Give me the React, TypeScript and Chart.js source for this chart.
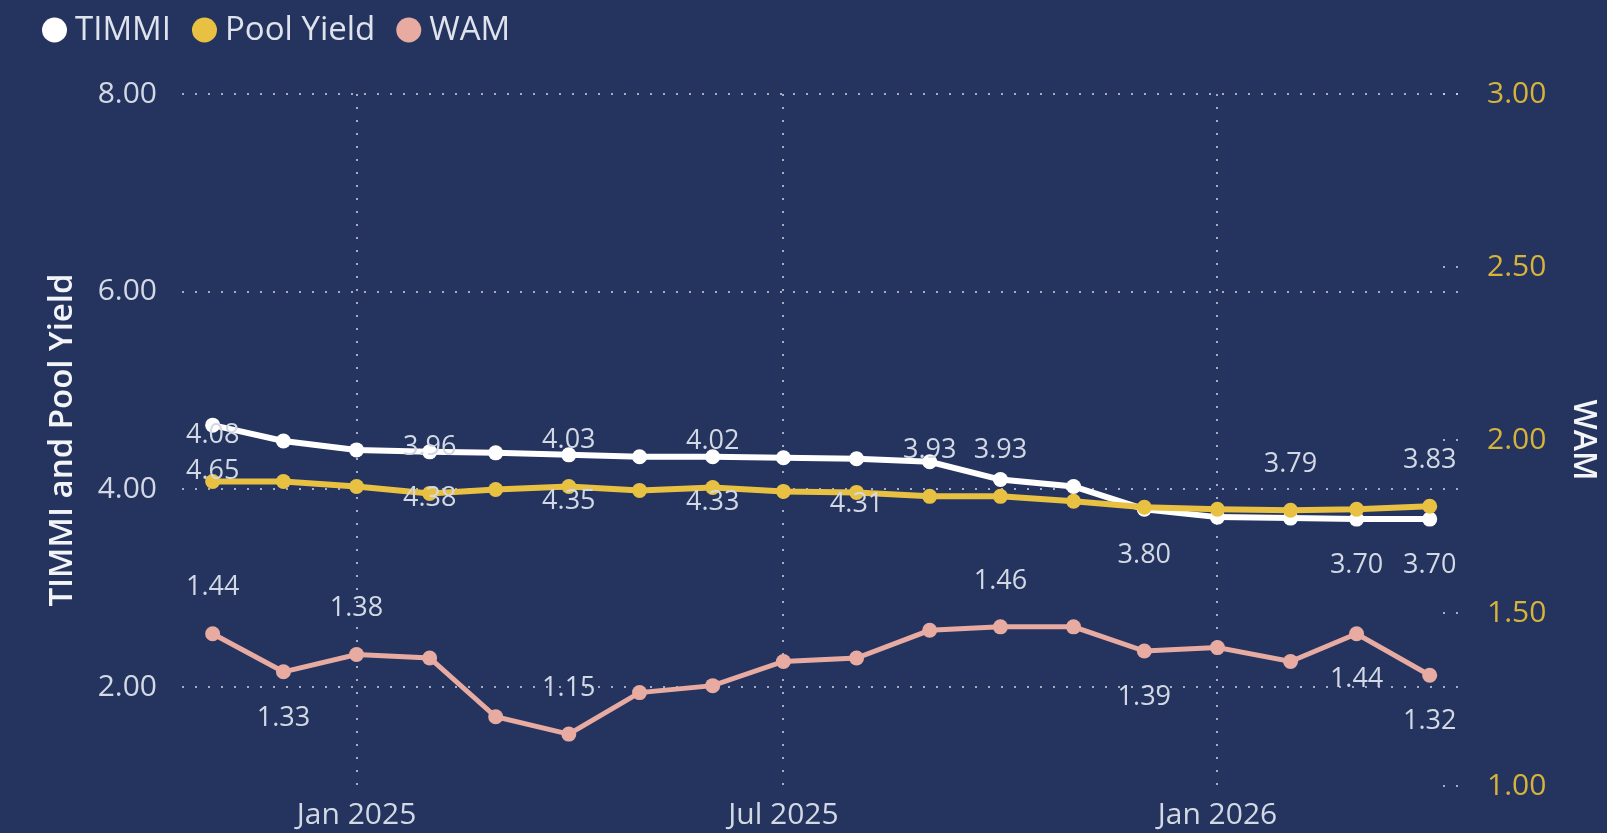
import React, { useEffect, useRef } from "react";
import { Chart, registerables } from "chart.js";

Chart.register(...registerables);

// ---------------- data ----------------
const months = [
  "2024-11", "2024-12", "2025-01", "2025-02", "2025-03", "2025-04",
  "2025-05", "2025-06", "2025-07", "2025-08", "2025-09", "2025-10",
  "2025-11", "2025-12", "2026-01", "2026-02", "2026-03", "2026-04",
];
const timmi = [4.65, 4.49, 4.4, 4.38, 4.37, 4.35, 4.33, 4.33, 4.32, 4.31, 4.28, 4.1, 4.03, 3.8, 3.72, 3.71, 3.7, 3.7];
const poolYield = [4.08, 4.08, 4.03, 3.96, 4.0, 4.03, 3.99, 4.02, 3.98, 3.97, 3.93, 3.93, 3.88, 3.82, 3.8, 3.79, 3.8, 3.83];
const wam = [1.44, 1.33, 1.38, 1.37, 1.2, 1.15, 1.27, 1.29, 1.36, 1.37, 1.45, 1.46, 1.46, 1.39, 1.4, 1.36, 1.44, 1.32];

const seriesNames = ["TIMMI", "Pool Yield", "WAM"];

const xTickMonths = ["2025-01", "2025-07", "2026-01"];
const xTickLabels = ["Jan 2025", "Jul 2025", "Jan 2026"];
const xRangeStart = "2024-10-19";
const xRangeEnd = "2026-04-13";

const leftTicks = [2, 4, 6, 8];
const rightTicks = [1, 1.5, 2, 2.5, 3];

// which points carry a data label and where it sits
const timmiLabelAt = [0, 3, 5, 7, 9, 13, 16, 17];
const timmiLabelSide = ["below", "below", "below", "below", "below", "below", "below", "below"];
const poolLabelAt = [0, 3, 5, 7, 10, 11, 15, 17];
const poolLabelSide = ["above", "above", "above", "above", "above", "above", "above", "above"];
const wamLabelAt = [0, 1, 2, 5, 11, 13, 16, 17];
const wamLabelSide = ["above", "below", "above", "above", "above", "below", "below", "below"];

// ---------------- styling ----------------
const BG = "#25345f";
const WHITE = "#ffffff";
const GOLD = "#e8c143";
const PINK = "#e8aba2";
const TEXT = "#d3d9e4";
const GOLD_TEXT = "#d6b43c";
const GRID = "rgba(205,212,226,0.75)";
const FONT = "'Open Sans', 'Noto Sans', 'DejaVu Sans', sans-serif";

const toMs = (s: string) => {
  const [y, m, d] = s.split("-").map(Number);
  return Date.UTC(y, m - 1, d || 1);
};

const legendPlugin = {
  id: "customLegend",
  afterDraw(chart: any) {
    const ctx = chart.ctx;
    const colors = [WHITE, GOLD, PINK];
    ctx.save();
    ctx.font = `33px ${FONT}`;
    ctx.textBaseline = "middle";
    ctx.textAlign = "left";
    let x = 42;
    const cy = 30;
    seriesNames.forEach((name, i) => {
      ctx.fillStyle = colors[i];
      ctx.beginPath();
      ctx.arc(x + 12.5, cy, 12.5, 0, Math.PI * 2);
      ctx.fill();
      ctx.fillStyle = "#dfe3ec";
      const tx = x + 33;
      ctx.fillText(name, tx, cy + 1);
      x = tx + ctx.measureText(name).width + 21;
    });
    ctx.restore();
  },
};

const stubPlugin = {
  id: "rightStubs",
  beforeDatasetsDraw(chart: any) {
    const ctx = chart.ctx;
    const s = chart.scales.y1;
    const right = chart.chartArea.right;
    ctx.save();
    ctx.strokeStyle = GRID;
    ctx.lineWidth = 2;
    ctx.setLineDash([2, 11]);
    rightTicks.forEach((v) => {
      const y = s.getPixelForValue(v);
      ctx.beginPath();
      ctx.moveTo(right - 15, y);
      ctx.lineTo(right, y);
      ctx.stroke();
    });
    ctx.restore();
  },
};

const labelPlugin = {
  id: "dataLabels",
  afterDatasetsDraw(chart: any) {
    const ctx = chart.ctx;
    const specs = [
      { ds: 0, values: timmi, at: timmiLabelAt, side: timmiLabelSide },
      { ds: 1, values: poolYield, at: poolLabelAt, side: poolLabelSide },
      { ds: 2, values: wam, at: wamLabelAt, side: wamLabelSide },
    ];
    ctx.save();
    ctx.font = `27px ${FONT}`;
    ctx.fillStyle = TEXT;
    ctx.textAlign = "center";
    ctx.textBaseline = "middle";
    specs.forEach((sp) => {
      const meta = chart.getDatasetMeta(sp.ds);
      sp.at.forEach((idx, k) => {
        const el = meta.data[idx];
        if (!el) return;
        const dy = sp.side[k] === "above" ? -46 : 46;
        ctx.fillText(sp.values[idx].toFixed(2), el.x, el.y + dy);
      });
    });
    ctx.restore();
  },
};

export default function App() {
  const ref = useRef<HTMLCanvasElement | null>(null);

  useEffect(() => {
    document.body.style.margin = "0";
    document.body.style.background = BG;
    const canvas = ref.current;
    if (!canvas) return;
    Chart.defaults.font.family = FONT;

    const xs = months.map(toMs);
    const mk = (arr: number[]) => arr.map((v, i) => ({ x: xs[i], y: v }));
    const xTickValues = xTickMonths.map(toMs);

    const chart = new Chart(canvas, {
      type: "line",
      data: {
        datasets: [
          {
            label: seriesNames[0],
            data: mk(timmi),
            yAxisID: "y",
            borderColor: WHITE,
            backgroundColor: WHITE,
            pointBackgroundColor: WHITE,
            pointBorderColor: WHITE,
            borderWidth: 6,
            pointRadius: 7.5,
            pointBorderWidth: 0,
            order: 2,
          },
          {
            label: seriesNames[1],
            data: mk(poolYield),
            yAxisID: "y",
            borderColor: GOLD,
            backgroundColor: GOLD,
            pointBackgroundColor: GOLD,
            pointBorderColor: GOLD,
            borderWidth: 6,
            pointRadius: 7.5,
            pointBorderWidth: 0,
            order: 1,
          },
          {
            label: seriesNames[2],
            data: mk(wam),
            yAxisID: "y1",
            borderColor: PINK,
            backgroundColor: PINK,
            pointBackgroundColor: PINK,
            pointBorderColor: PINK,
            borderWidth: 5,
            pointRadius: 7.5,
            pointBorderWidth: 0,
            order: 3,
          },
        ],
      },
      options: {
        animation: false,
        responsive: true,
        maintainAspectRatio: false,
        events: [],
        layout: { padding: { top: 94, left: 22, right: 0, bottom: 0 } },
        plugins: {
          legend: { display: false },
          tooltip: { enabled: false },
        },
        elements: { line: { tension: 0 } },
        scales: {
          x: {
            type: "linear",
            min: toMs(xRangeStart),
            max: toMs(xRangeEnd),
            afterBuildTicks: (axis: any) => {
              axis.ticks = xTickValues.map((v) => ({ value: v }));
            },
            afterFit: (scale: any) => {
              scale.height = 47;
            },
            ticks: {
              autoSkip: false,
              maxRotation: 0,
              padding: 11,
              color: TEXT,
              font: { size: 30 },
              callback: (_v: any, i: number) => xTickLabels[i],
            },
            grid: { color: GRID, lineWidth: 2, drawTicks: false },
            border: { display: false, dash: [2, 11] },
          },
          y: {
            type: "linear",
            position: "left",
            min: 1,
            max: 8,
            afterBuildTicks: (axis: any) => {
              axis.ticks = leftTicks.map((v) => ({ value: v }));
            },
            afterFit: (scale: any) => {
              scale.width = 160;
            },
            ticks: {
              padding: 25,
              color: TEXT,
              font: { size: 30 },
              callback: (v: any) => Number(v).toFixed(2),
            },
            grid: { color: GRID, lineWidth: 2, drawTicks: false },
            border: { display: false, dash: [2, 11] },
            title: {
              display: true,
              text: "TIMMI and Pool Yield",
              color: "#f2f4f8",
              font: { size: 33, weight: "600" },
              padding: { top: 21, bottom: 17 },
            },
          },
          y1: {
            type: "linear",
            position: "right",
            min: 1,
            max: 3,
            afterBuildTicks: (axis: any) => {
              axis.ticks = rightTicks.map((v) => ({ value: v }));
            },
            afterFit: (scale: any) => {
              scale.width = 149;
            },
            ticks: {
              padding: 29,
              color: GOLD_TEXT,
              font: { size: 30 },
              callback: (v: any) => Number(v).toFixed(2),
            },
            grid: { display: false, drawTicks: false },
            border: { display: false },
            title: {
              display: true,
              text: "WAM",
              color: "#f2f4f8",
              font: { size: 32, weight: "600" },
              padding: { top: 5, bottom: 18 },
            },
          },
        },
      },
      plugins: [stubPlugin, labelPlugin, legendPlugin],
    } as any);

    return () => chart.destroy();
  }, []);

  return (
    <div style={{ width: 1607, height: 833, background: BG, position: "relative" }}>
      <canvas ref={ref} />
    </div>
  );
}
